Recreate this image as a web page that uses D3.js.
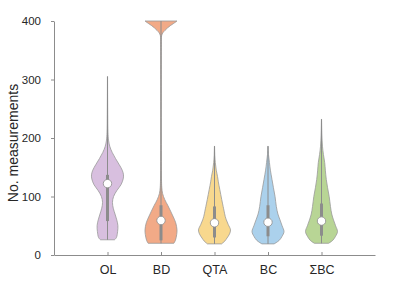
<!DOCTYPE html>
<html>
<head>
<meta charset="utf-8">
<script src="https://cdn.jsdelivr.net/npm/d3@7"></script>
<style>
  body { margin: 0; background: #fff; }
  text { font-family: "Liberation Sans", Arial, sans-serif; }
</style>
</head>
<body>
<svg></svg>
<script>
const margin = {top: 21, right: 40, bottom: 31, left: 54};
const svg_width = 415;
const svg_height = 286;
const width = svg_width - margin.left - margin.right;
const height = svg_height - margin.top - margin.bottom;

const categories = ["OL", "BD", "QTA", "BC", "ΣBC"];
const colors = ["#d8bfdf", "#f2aa87", "#f8d88e", "#abd1ec", "#b8d595"];
const yTicks = [0, 100, 200, 300, 400];

// [value, relative density]
const densOL = [[26,0.44],[30,0.56],[40,0.63],[50,0.65],[60,0.58],[70,0.47],[80,0.36],[90,0.31],[100,0.38],[110,0.58],[120,0.84],[130,0.98],[137,1.0],[145,0.92],[155,0.72],[165,0.5],[175,0.3],[185,0.15],[195,0.07],[210,0.03],[240,0.015],[270,0.008],[305,0.004]];
const densBD = [[20,0.8],[25,0.9],[35,0.98],[43,1.0],[55,0.92],[65,0.77],[75,0.6],[85,0.42],[95,0.23],[105,0.1],[115,0.05],[130,0.03],[160,0.02],[200,0.015],[300,0.015],[360,0.02],[375,0.04],[380,0.12],[384,0.25],[388,0.4],[392,0.58],[396,0.8],[400,1.0]];
const densQTA = [[19,0.44],[24,0.65],[29,0.78],[36,0.94],[43,1.0],[52,0.86],[60,0.74],[66,0.67],[75,0.6],[83,0.54],[95,0.45],[112,0.33],[125,0.24],[134,0.19],[145,0.11],[158,0.05],[170,0.02],[186,0.005]];
const densBC = [[19,0.38],[25,0.7],[32,0.88],[40,1.0],[50,0.88],[60,0.75],[70,0.62],[83,0.52],[100,0.44],[115,0.34],[129,0.25],[145,0.15],[158,0.09],[172,0.03],[186,0.005]];
const densSBC = [[20,0.44],[25,0.7],[32,0.88],[40,1.0],[50,0.88],[60,0.75],[70,0.64],[83,0.56],[100,0.48],[115,0.38],[129,0.3],[145,0.24],[158,0.2],[172,0.12],[186,0.06],[205,0.025],[232,0.005]];
const densities = [densOL, densBD, densQTA, densBC, densSBC];

// [min, q1, median, q3, max]
const stats = [[26,58,122,137,305],[20,25,59,85,400],[19,30,55,83,186],[19,32,56,85,186],[20,33,58,88,232]];

const svg = d3.select("svg")
    .attr("width", svg_width)
    .attr("height", svg_height)
    .append("g")
    .attr("transform", `translate(${margin.left}, ${margin.top})`);

const xScale = d3.scaleLinear()
    .domain([0, categories.length + 1])
    .range([0, width]);

const yScale = d3.scaleLinear()
    .domain([0, 400])
    .range([height, 0]);

const wScale = d3.scaleLinear().domain([0, 1]).range([0, 16]);

// axes
const xAxis = d3.axisBottom(xScale)
    .tickValues(d3.range(1, categories.length + 1))
    .tickFormat(i => categories[i - 1])
    .tickSizeInner(-3).tickSizeOuter(0).tickPadding(10);
const gx = svg.append("g").attr("transform", `translate(0, ${height})`).call(xAxis);

const yAxis = d3.axisLeft(yScale)
    .tickValues(yTicks)
    .tickSizeInner(3).tickSizeOuter(0).tickPadding(10);
const gy = svg.append("g").call(yAxis);

[gx, gy].forEach(g => {
    g.select(".domain").attr("stroke", "#8c8c8c");
    g.selectAll(".tick line").attr("stroke", "#8c8c8c");
    g.selectAll("text").attr("fill", "#262626");
});
gx.selectAll("text").style("font-size", "12.5px");
gy.selectAll("text").style("font-size", "11.5px");

svg.append("text")
    .attr("transform", `translate(${-36}, ${height / 2 + 5}) rotate(-90)`)
    .attr("text-anchor", "middle")
    .attr("fill", "#262626")
    .style("font-size", "14px")
    .text("No. measurements");

// violins
densities.forEach((dens, i) => {
    const cx = xScale(i + 1);
    const area = d3.area()
        .y(d => yScale(d[0]))
        .x0(d => cx - wScale(d[1]))
        .x1(d => cx + wScale(d[1]))
        .curve(d3.curveCatmullRom);
    svg.append("path")
        .datum(dens)
        .attr("d", area)
        .attr("fill", colors[i])
        .attr("stroke", "#9a9a9a")
        .attr("stroke-opacity", 0.8)
        .attr("stroke-width", 1);

    const s = stats[i];
    svg.append("line")
        .attr("x1", cx).attr("x2", cx)
        .attr("y1", yScale(s[0])).attr("y2", yScale(s[4]))
        .attr("stroke", "#8c8c8c").attr("stroke-width", 1);
    svg.append("line")
        .attr("x1", cx).attr("x2", cx)
        .attr("y1", yScale(s[1])).attr("y2", yScale(s[3]))
        .attr("stroke", "#8c8c8c").attr("stroke-width", 3);
    svg.append("circle")
        .attr("cx", cx).attr("cy", yScale(s[2]))
        .attr("r", 4.2)
        .attr("fill", "#fff")
        .attr("stroke", "#8c8c8c").attr("stroke-width", 0.8);
});
</script>
</body>
</html>
